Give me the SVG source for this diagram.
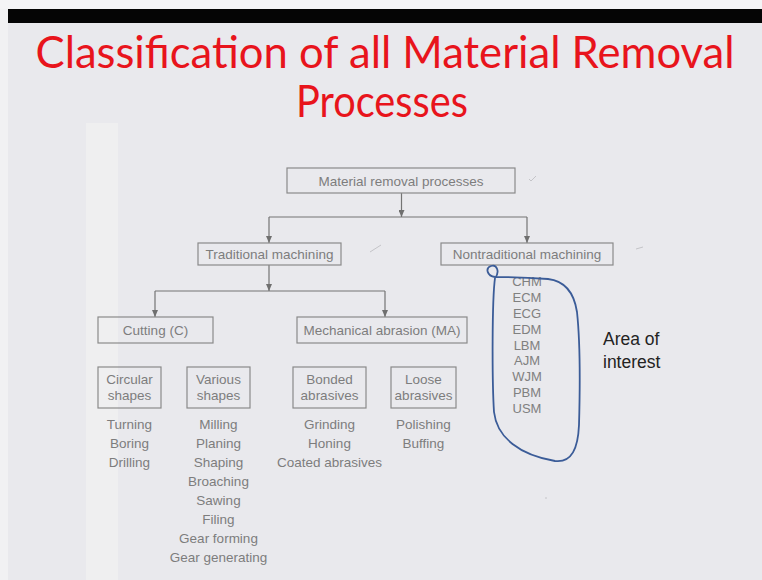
<svg xmlns="http://www.w3.org/2000/svg" width="762" height="580" viewBox="0 0 762 580">
<defs>
<marker id="ah" markerWidth="7" markerHeight="6" refX="7" refY="3" orient="auto" markerUnits="userSpaceOnUse" viewBox="0 0 7 6">
<path d="M0,0 L7,3 L0,6 Z" fill="#6f6f6f"/>
</marker>
<style>
.box{fill:none;stroke:#8a8a8a;stroke-width:1.2}
.t{font-family:"Liberation Sans",Arial,sans-serif;font-size:13.5px;fill:#7d7d7d;text-anchor:middle}
.n{font-family:"Liberation Sans",Arial,sans-serif;font-size:13px;fill:#808080;text-anchor:middle}
.ln{fill:none;stroke:#747474;stroke-width:1.2}
.title{font-family:Lato,"Open Sans",sans-serif;font-size:44px;fill:#e8141c;text-anchor:middle}
.tick{fill:none;stroke:#c4c4c8;stroke-width:1}
</style>
</defs>
<rect x="0" y="0" width="762" height="580" fill="#e9e9ed"/>
<rect x="0" y="0" width="8" height="580" fill="#f1f1f3"/>
<rect x="0" y="0" width="762" height="9" fill="#f4f4f6"/>
<rect x="8" y="9" width="754" height="14" fill="#050505"/>
<rect x="86" y="123" width="32" height="457" fill="#efeff0"/>

<g id="title">
<text class="title" x="385" y="68" textLength="699" lengthAdjust="spacingAndGlyphs">Classification of all Material Removal</text>
<text class="title" x="382" y="117" textLength="172" lengthAdjust="spacingAndGlyphs">Processes</text>
</g>

<g id="connectors">
<path class="ln" d="M401.5 193 V217" marker-end="url(#ah)"/>
<path class="ln" d="M269 217 H527"/>
<path class="ln" d="M269 217 V243" marker-end="url(#ah)"/>
<path class="ln" d="M527 217 V243" marker-end="url(#ah)"/>
<path class="ln" d="M269 265 V291" marker-end="url(#ah)"/>
<path class="ln" d="M155 291 H385"/>
<path class="ln" d="M155 291 V317" marker-end="url(#ah)"/>
<path class="ln" d="M385 291 V317" marker-end="url(#ah)"/>
</g>

<g id="n-root">
<rect class="box" x="287" y="168" width="228" height="25"/>
<text class="t" x="401" y="185.5">Material removal processes</text>
</g>
<g id="n-traditional">
<rect class="box" x="198" y="243" width="143" height="22"/>
<text class="t" x="269.5" y="259">Traditional machining</text>
</g>
<g id="n-nontraditional">
<rect class="box" x="441" y="243" width="172" height="22"/>
<text class="t" x="527" y="259">Nontraditional machining</text>
</g>
<g id="n-cutting">
<rect class="box" x="98" y="317" width="115" height="26"/>
<text class="t" x="155.5" y="335">Cutting (C)</text>
</g>
<g id="n-ma">
<rect class="box" x="297" y="317" width="170" height="26"/>
<text class="t" x="382" y="335">Mechanical abrasion (MA)</text>
</g>
<g id="n-circular">
<rect class="box" x="98" y="367" width="63" height="41"/>
<text class="t" x="129.5" y="384">Circular</text>
<text class="t" x="129.5" y="400">shapes</text>
<text class="t" x="129.5" y="429">Turning</text>
<text class="t" x="129.5" y="448">Boring</text>
<text class="t" x="129.5" y="467">Drilling</text>
</g>
<g id="n-various">
<rect class="box" x="187" y="367" width="63" height="41"/>
<text class="t" x="218.5" y="384">Various</text>
<text class="t" x="218.5" y="400">shapes</text>
<text class="t" x="218.5" y="429">Milling</text>
<text class="t" x="218.5" y="448">Planing</text>
<text class="t" x="218.5" y="467">Shaping</text>
<text class="t" x="218.5" y="486">Broaching</text>
<text class="t" x="218.5" y="505">Sawing</text>
<text class="t" x="218.5" y="524">Filing</text>
<text class="t" x="218.5" y="543">Gear forming</text>
<text class="t" x="218.5" y="562">Gear generating</text>
</g>
<g id="n-bonded">
<rect class="box" x="293" y="367" width="73" height="41"/>
<text class="t" x="329.5" y="384">Bonded</text>
<text class="t" x="329.5" y="400">abrasives</text>
<text class="t" x="329.5" y="429">Grinding</text>
<text class="t" x="329.5" y="448">Honing</text>
<text class="t" x="329.5" y="467">Coated abrasives</text>
</g>
<g id="n-loose">
<rect class="box" x="391" y="367" width="65" height="41"/>
<text class="t" x="423.5" y="384">Loose</text>
<text class="t" x="423.5" y="400">abrasives</text>
<text class="t" x="423.5" y="429">Polishing</text>
<text class="t" x="423.5" y="448">Buffing</text>
</g>
<g id="n-nt-list">
<text class="n" x="527" y="286">CHM</text>
<text class="n" x="527" y="302">ECM</text>
<text class="n" x="527" y="318">ECG</text>
<text class="n" x="527" y="334">EDM</text>
<text class="n" x="527" y="350">LBM</text>
<text class="n" x="527" y="365">AJM</text>
<text class="n" x="527" y="381">WJM</text>
<text class="n" x="527" y="397">PBM</text>
<text class="n" x="527" y="413">USM</text>
</g>
<g id="area">
<path d="M548 279 C522 277 502 277 495 277 C487 276 485 268 491 266 C497 264 500 272 495 278 C492 300 492 380 494 412 C497 438 520 455 555 461 C572 463 578 448 579 425 C580 390 580 340 577 312 C574 292 565 281 548 279 Z" fill="none" stroke="#3b5c98" stroke-width="1.8" stroke-linejoin="round"/>
<text x="603" y="345" font-family="Liberation Sans,Arial,sans-serif" font-size="17.5" fill="#232323">Area of</text>
<text x="603" y="368" font-family="Liberation Sans,Arial,sans-serif" font-size="17.5" fill="#232323">interest</text>
</g>
<g id="marks">
<path class="tick" d="M529 179 L531 181 L536 176"/>
<path class="tick" d="M370 252 L381 245"/>
<path class="tick" d="M636 249 L643 247"/>
<path class="tick" d="M545 498 L547 498"/>
</g>
</svg>
